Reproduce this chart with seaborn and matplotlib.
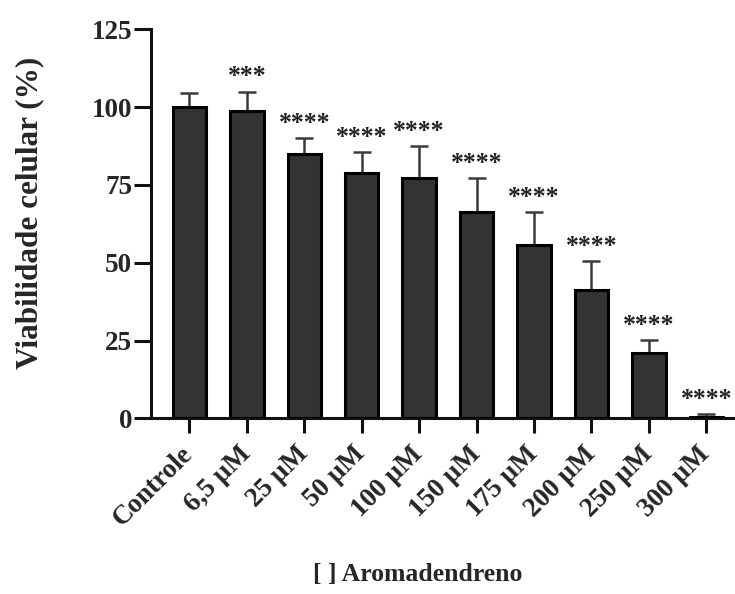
import numpy as np
import pandas as pd
import seaborn as sns
import matplotlib.pyplot as plt

# values
categories = ['Controle', '6,5 µM', '25 µM', '50 µM', '100 µM',
              '150 µM', '175 µM', '200 µM', '250 µM', '300 µM']
viability = [100.0, 98.8, 84.8, 78.7, 77.3, 66.3, 55.6, 41.2, 21.0, 0.4]
sd_upper = [4.6, 6.2, 5.2, 6.9, 10.2, 11.0, 10.7, 9.3, 4.3, 1.0]
significance = ['', '***', '****', '****', '****', '****', '****', '****', '****', '****']

df = pd.DataFrame({'dose': categories, 'viab': viability, 'sd': sd_upper})

sns.set_theme(style="ticks")
plt.rcParams['font.family'] = ['Liberation Serif', 'DejaVu Serif']
plt.rcParams['font.weight'] = 'bold'

fig = plt.figure(figsize=(7.35, 5.94), dpi=100)
ax = fig.add_axes([0.2054, 0.2955, 0.7946, 0.6552])

sns.barplot(data=df, x='dose', y='viab', order=categories, color='#333333',
            saturation=1, width=0.58, errorbar=None,
            edgecolor='black', linewidth=2.2, ax=ax, zorder=3)

# upper error bars only
xpos = np.arange(len(categories))
ax.errorbar(xpos, df['viab'], yerr=[np.zeros(len(df)), df['sd']], fmt='none',
            ecolor='#3a3a3a', elinewidth=1.8, capsize=6.8, capthick=1.8, zorder=2)

for x, top, s in zip(xpos, df['viab'] + df['sd'], significance):
    if s:
        ax.text(x, top + 1.0, s, ha='center', va='bottom', fontsize=18.5,
                fontweight='bold', color='#222222')

ax.set_ylim(0, 125)
ax.set_xlim(-0.67, 9.5)
ax.set_yticks([0, 25, 50, 75, 100, 125])

sns.despine(ax=ax)
for side in ['left', 'bottom']:
    ax.spines[side].set_linewidth(2.2)
    ax.spines[side].set_color('#111111')

ax.tick_params(axis='both', width=2.2, color='#111111')
ax.tick_params(axis='y', labelsize=19.5, pad=1.5, length=12)
ax.tick_params(axis='x', labelsize=19.5, pad=12, length=11)
for lab in ax.get_xticklabels():
    lab.set_rotation(45)
    lab.set_ha('right')
    lab.set_va('center')
    lab.set_rotation_mode('anchor')
    lab.set_fontweight('bold')
for lab in ax.get_yticklabels():
    lab.set_fontweight('bold')

ax.set_ylabel('Viabilidade celular (%)', fontsize=22.5, fontweight='bold')
ax.yaxis.set_label_coords(-0.182, 0.528)
ax.set_xlabel('[ ] Aromadendreno', fontsize=18.5, fontweight='bold')
ax.xaxis.set_label_coords(0.457, -0.372)

plt.savefig('out.png', dpi=100)
